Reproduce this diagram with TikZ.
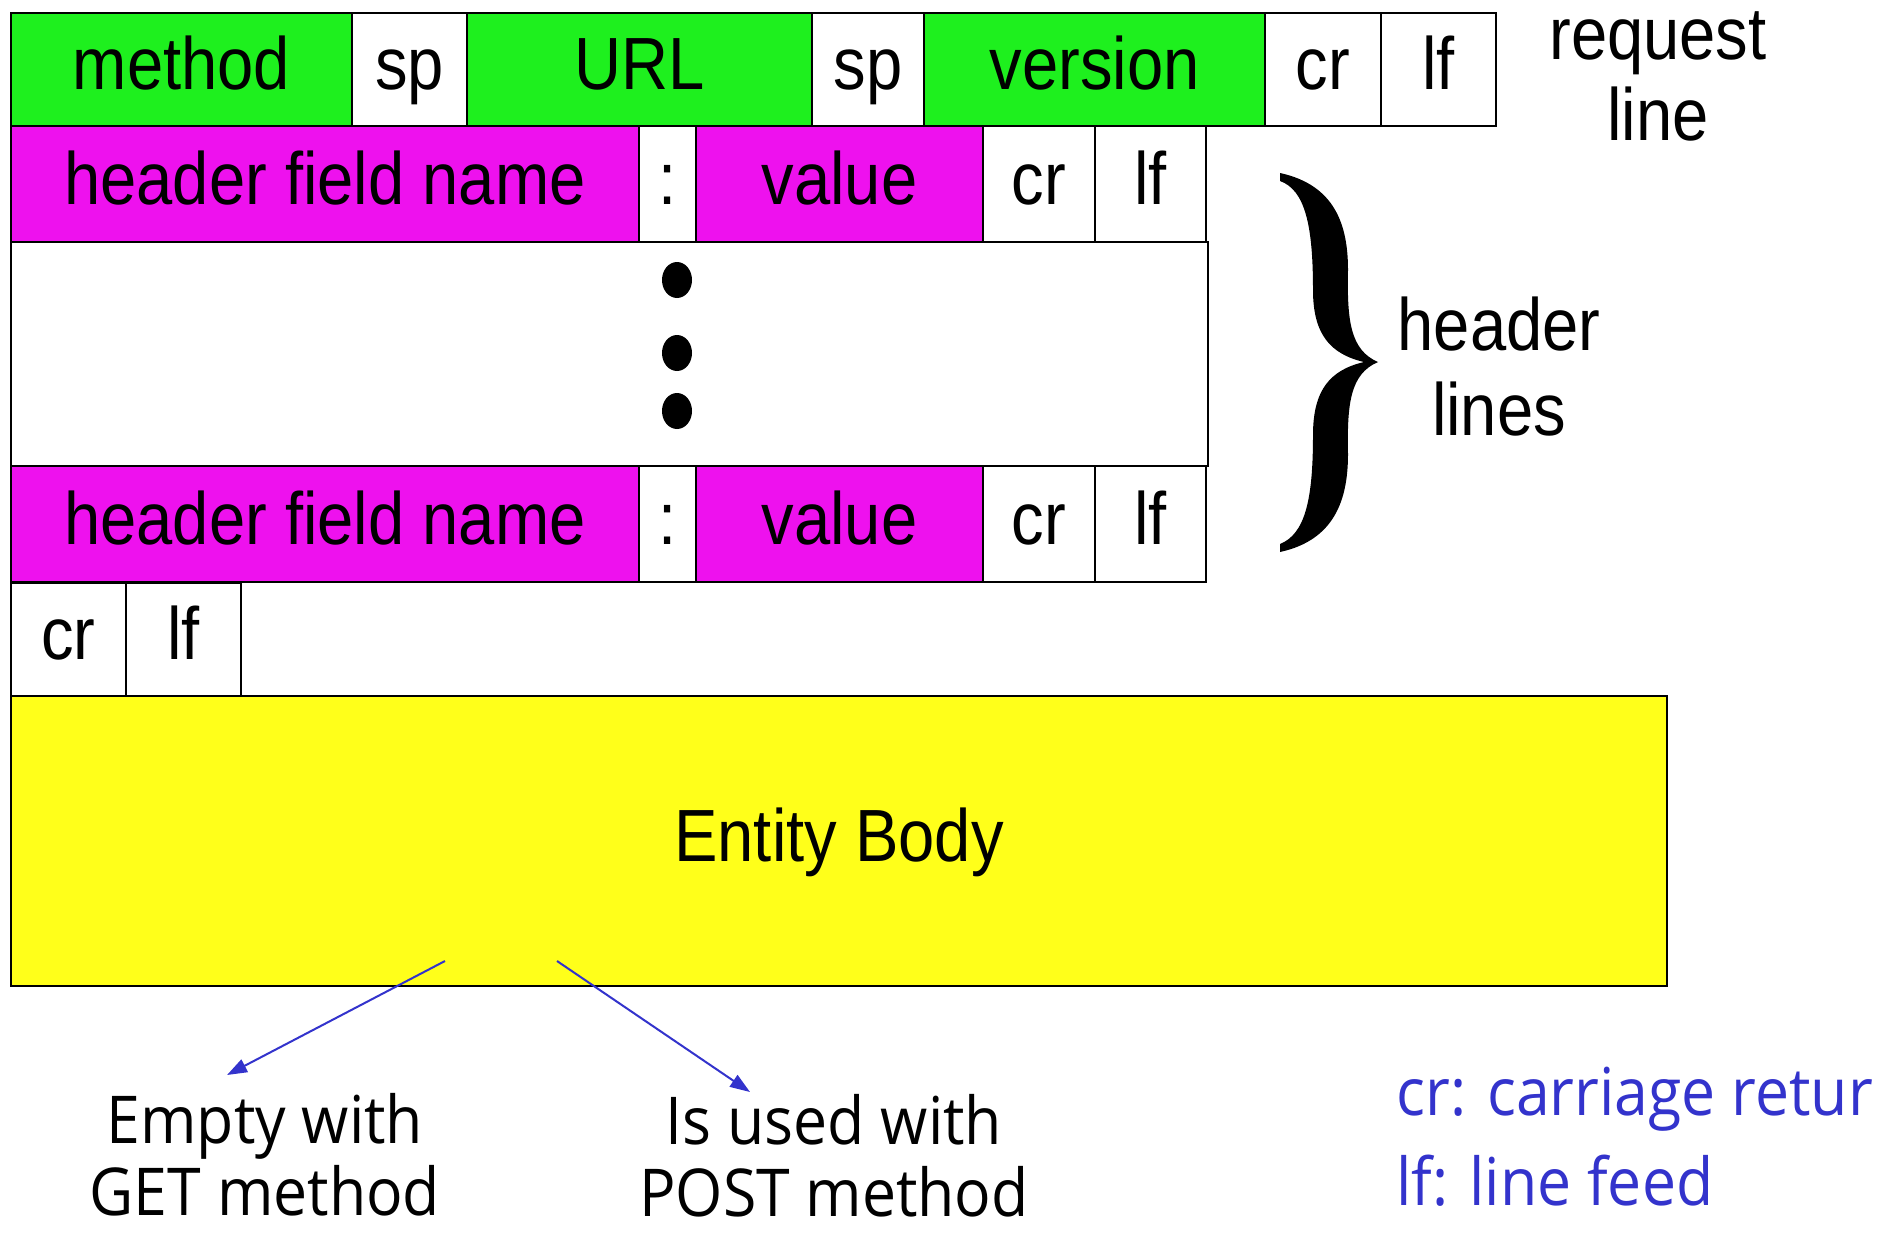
\documentclass[tikz,border=0pt]{standalone}
\usepackage{fontspec}
\setmainfont[FakeStretch=0.88]{Liberation Sans}
\newfontfamily\comicfont[FakeStretch=0.92]{Open Sans}
\usetikzlibrary{arrows.meta,shapes.geometric}
\definecolor{grnc}{RGB}{30,240,30}
\definecolor{magc}{RGB}{238,17,238}
\definecolor{yelc}{RGB}{255,255,26}
\definecolor{bluc}{RGB}{51,51,204}
\newcommand{\boxfont}{\fontsize{37}{40.5}\selectfont}
\newcommand{\cfont}{\comicfont\fontsize{33}{36}\selectfont}
\tikzset{
  fld/.style={draw=black, line width=1pt, inner sep=0pt, anchor=north west, font=\boxfont, fill=white, text height=28pt, text depth=8pt},
  grn/.style={fld, fill=grnc},
  mag/.style={fld, fill=magc},
  rowa/.style={minimum height=56.5pt},
  rowh/.style={minimum height=58pt},
  lbl/.style={align=center, inner sep=0pt, font=\boxfont},
  ctext/.style={align=center, inner sep=0pt, font=\cfont},
  btext/.style={anchor=west, inner sep=0pt, font=\cfont, text=bluc},
  dotn/.style={ellipse, fill=black, inner sep=0pt, minimum width=15pt, minimum height=18pt},
  arr/.style={draw=bluc, line width=1pt, -{Triangle[length=10pt,width=7pt]}}
}
\begin{document}
\begin{tikzpicture}[x=0.5pt,y=-0.5pt]
\useasboundingbox (0,0) rectangle (1890,1232);
% request line
\node[grn, rowa, minimum width=170.5pt] (method) at (10,12) {method};
\node[fld, rowa, minimum width=57.5pt] (sp1) at (351,12) {sp};
\node[grn, rowa, minimum width=172.5pt] (url) at (466,12) {URL};
\node[fld, rowa, minimum width=56pt] (sp2) at (811,12) {sp};
\node[grn, rowa, minimum width=170.5pt] (version) at (923,12) {version};
\node[fld, rowa, minimum width=58pt] (cr0) at (1264,12) {cr};
\node[fld, rowa, minimum width=57.5pt] (lf0) at (1380,12) {lf};
\node[lbl] (req) at (1658,76) {request\\line};
% gap box
\node[fld, minimum width=598.5pt, minimum height=112pt] (gap) at (10,241) {};
% header line 1
\node[mag, rowh, minimum width=314pt] (name1) at (10,125) {header field name};
\node[fld, rowh, minimum width=28.5pt] (col1) at (638,125) {:};
\node[mag, rowh, minimum width=143.5pt] (val1) at (695,125) {value};
\node[fld, rowh, minimum width=56pt] (cr1) at (982,125) {cr};
\node[fld, rowh, minimum width=55.5pt] (lf1) at (1094,125) {lf};
% dots
\node[dotn] (d1) at (677,280) {};
\node[dotn] (d2) at (677,353) {};
\node[dotn] (d3) at (677,411) {};
% header line 2
\node[mag, rowh, minimum width=314pt] (name2) at (10,465) {header field name};
\node[fld, rowh, minimum width=28.5pt] (col2) at (638,465) {:};
\node[mag, rowh, minimum width=143.5pt] (val2) at (695,465) {value};
\node[fld, rowh, minimum width=56pt] (cr2) at (982,465) {cr};
\node[fld, rowh, minimum width=55.5pt] (lf2) at (1094,465) {lf};
% blank line
\node[fld, rowa, minimum width=57.5pt] (cr3) at (10,582) {cr};
\node[fld, rowa, minimum width=57.5pt] (lf3) at (125,582) {lf};
% entity body
\node[fld, fill=yelc, minimum width=828pt, minimum height=145pt] (body) at (10,695) {Entity Body};
% brace
\fill[black] (1280,173) .. controls (1335,185) and (1348,225) .. (1348,270)
  .. controls (1347,320) and (1350,350) .. (1378,362)
  .. controls (1350,374) and (1347,404) .. (1348,454)
  .. controls (1348,499) and (1335,540) .. (1280,552)
  -- (1280,544)
  .. controls (1305,534) and (1313,500) .. (1313,435)
  .. controls (1313,390) and (1330,370) .. (1364,362)
  .. controls (1330,354) and (1313,334) .. (1313,290)
  .. controls (1313,225) and (1305,190) .. (1280,181) -- cycle;
\node[lbl] (hl) at (1499,367) {header\\[2pt]lines};
% bottom notes
\node[ctext] (get) at (265,1155) {Empty with\\GET method};
\node[ctext] (post) at (834,1156) {Is used with\\POST method};
\node[btext] (crt) at (1396,1099) {cr: carriage retur};
\node[btext] (lft) at (1396,1181) {lf: line feed};
\coordinate (s1) at (445,961);
\coordinate (t1) at (227,1075);
\coordinate (s2) at (557,961);
\coordinate (t2) at (750,1092);
\draw[arr] (s1) -- (t1);
\draw[arr] (s2) -- (t2);
\end{tikzpicture}
\end{document}
